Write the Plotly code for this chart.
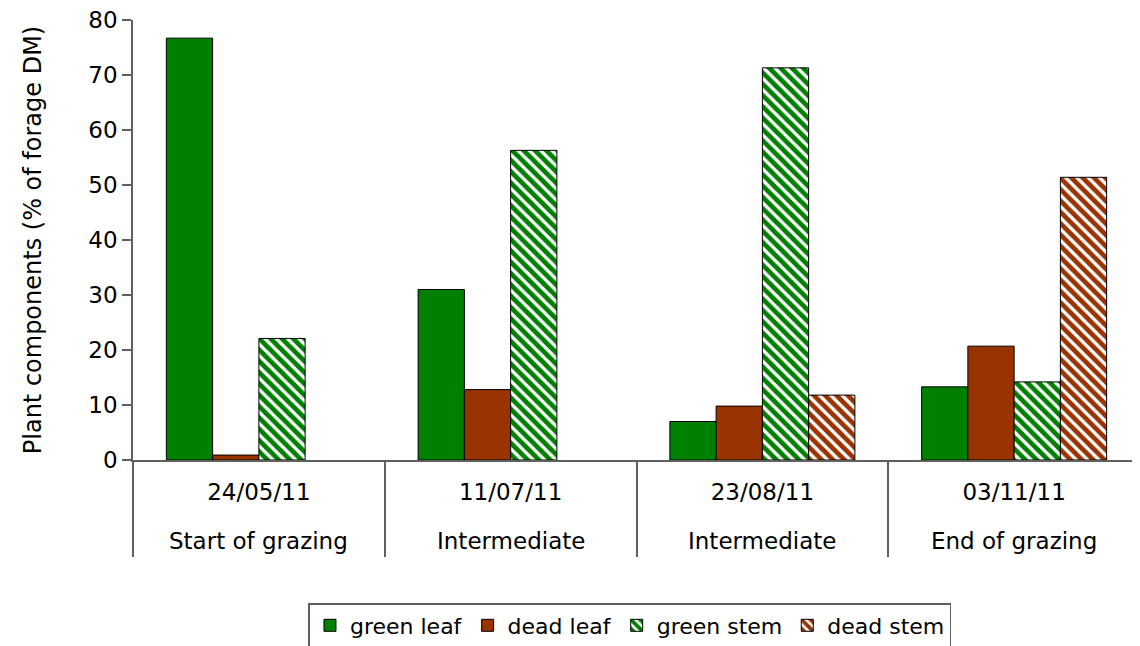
import plotly.graph_objects as go

dates = ["24/05/11", "11/07/11", "23/08/11", "03/11/11"]
stages = ["Start of grazing", "Intermediate", "Intermediate", "End of grazing"]

green_leaf = [76.7, 31.0, 7.0, 13.3]
dead_leaf = [0.9, 12.8, 9.8, 20.7]
green_stem = [22.1, 56.3, 71.3, 14.2]
dead_stem = [None, None, 11.8, 51.4]  # no bar drawn for the first two dates

GREEN = "#008000"
BROWN = "#993300"
AXIS = "#606060"
FONT = "DejaVu Sans, Arial, sans-serif"

x = list(range(len(dates)))

fig = go.Figure()

# solid bars
fig.add_trace(go.Bar(x=x, y=green_leaf, name="green leaf",
                     marker=dict(color=GREEN, line=dict(color="black", width=1))))
fig.add_trace(go.Bar(x=x, y=dead_leaf, name="dead leaf",
                     marker=dict(color=BROWN, line=dict(color="black", width=1))))
# hatched bars
fig.add_trace(go.Bar(x=x, y=green_stem, name="green stem",
                     marker=dict(color="white", line=dict(color="black", width=1),
                                 pattern=dict(shape="\\", fgcolor=GREEN, fgopacity=1,
                                              size=8, solidity=0.6, fillmode="overlay"))))
fig.add_trace(go.Bar(x=x, y=dead_stem, name="dead stem",
                     marker=dict(color="white", line=dict(color="black", width=1),
                                 pattern=dict(shape="\\", fgcolor=BROWN, fgopacity=1,
                                              size=8, solidity=0.6, fillmode="overlay"))))

# second row of category labels
for i, s in enumerate(stages):
    fig.add_annotation(x=i, y=-0.184, xref="x", yref="paper", text=s,
                       showarrow=False, yanchor="middle",
                       font=dict(family=FONT, size=23, color="black"))

# invisible trace on overlay axis, its ticks draw the category separators
fig.add_trace(go.Scatter(x=[-0.5, 3.5], y=[0, 0], xaxis="x2", mode="lines",
                         line=dict(width=0), showlegend=False, hoverinfo="skip"))

# page has an 8px body margin, so the figure is drawn 8px smaller
fig.update_layout(
    width=1132, height=638,
    paper_bgcolor="white", plot_bgcolor="white",
    margin=dict(l=125, r=0, t=12, b=186, autoexpand=False),
    barmode="group", bargap=0.265, bargroupgap=0,
    font=dict(family=FONT, size=23, color="black"),
    xaxis=dict(range=[-0.5, 3.5], tickvals=x, ticktext=dates, ticks="",
               showgrid=False, zeroline=False, showline=True, linecolor=AXIS,
               linewidth=1.5, tickfont=dict(size=23), ticklabelstandoff=11),
    xaxis2=dict(overlaying="x", range=[-0.5, 3.5], side="bottom",
                tickvals=[-0.5, 0.5, 1.5, 2.5], ticks="outside", ticklen=96,
                tickwidth=1.5, tickcolor=AXIS, showticklabels=False,
                showgrid=False, zeroline=False, showline=False),
    yaxis=dict(range=[0, 80], dtick=10, ticks="outside", ticklen=9,
               tickcolor=AXIS, tickwidth=1.5, showgrid=False, zeroline=False,
               showline=True, linecolor=AXIS, linewidth=1.5,
               tickfont=dict(size=23), ticklabelstandoff=0,
               ticklabeloverflow="allow",
               title=dict(text="Plant components (% of forage DM)",
                          font=dict(size=24), standoff=40)),
    legend=dict(orientation="h", x=0.4935, xanchor="center", y=-0.325, yanchor="top",
                bordercolor=AXIS, borderwidth=1.5, font=dict(size=22),
                itemwidth=30, tracegroupgap=0, traceorder="normal"),
    showlegend=True,
)

fig.write_html("out.html")
